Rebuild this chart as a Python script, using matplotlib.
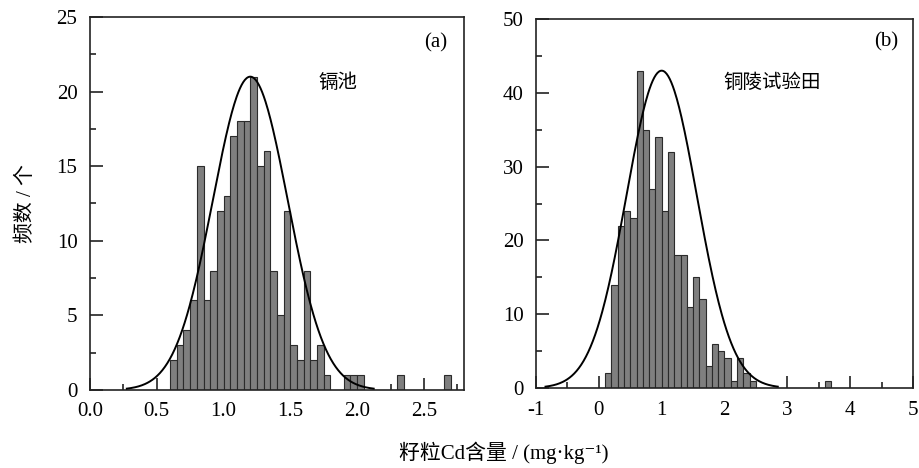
import numpy as np
import matplotlib
matplotlib.use("Agg")
import matplotlib.pyplot as plt
from matplotlib.ticker import MultipleLocator

plt.rcParams['font.family'] = ['Liberation Serif', 'Noto Sans CJK SC', 'DejaVu Serif']
plt.rcParams['axes.unicode_minus'] = False

# panel (a) 镉池: bin left edges (width 0.05) and counts
a_bins = [0.60, 0.65, 0.70, 0.75, 0.80, 0.85, 0.90, 0.95, 1.00, 1.05, 1.10, 1.15,
          1.20, 1.25, 1.30, 1.35, 1.40, 1.45, 1.50, 1.55, 1.60, 1.65, 1.70, 1.75,
          1.90, 1.95, 2.00, 2.30, 2.65]
a_counts = [2, 3, 4, 6, 15, 6, 8, 12, 13, 17, 18, 18,
            21, 15, 16, 8, 5, 12, 3, 2, 8, 2, 3, 1,
            1, 1, 1, 1, 1]
a_width = 0.05
a_mean, a_sd, a_peak = 1.2, 0.28, 21.0

# panel (b) 铜陵试验田: bin left edges (width 0.1) and counts
b_bins = [0.1, 0.2, 0.3, 0.4, 0.5, 0.6, 0.7, 0.8, 0.9, 1.0, 1.1, 1.2,
          1.3, 1.4, 1.5, 1.6, 1.7, 1.8, 1.9, 2.0, 2.1, 2.2, 2.3, 2.4, 3.6]
b_counts = [2, 14, 22, 24, 23, 43, 35, 27, 34, 24, 32, 18,
            18, 11, 15, 12, 3, 6, 5, 4, 1, 4, 2, 1, 1]
b_width = 0.1
b_mean, b_sd, b_peak = 1.0, 0.56, 43.0

bar_face = '#7f7f7f'
bar_edge = '#2b2b2b'
axis_col = '#222222'

fig = plt.figure(figsize=(9.19, 4.68), dpi=100)
ax1 = fig.add_axes([0.0979, 0.1667, 0.4070, 0.7970])
ax2 = fig.add_axes([0.5832, 0.1709, 0.4103, 0.7885])


def draw_panel(ax, bins, counts, width, mean, sd, peak):
    ax.bar(bins, counts, width=width, align='edge', color=bar_face,
           edgecolor=bar_edge, linewidth=0.8, zorder=2)
    xs = np.linspace(mean - 3.3 * sd, mean + 3.3 * sd, 300)
    ax.plot(xs, peak * np.exp(-0.5 * ((xs - mean) / sd) ** 2),
            color='black', lw=1.4, zorder=3)
    for s in ax.spines.values():
        s.set_linewidth(1.2)
        s.set_color(axis_col)
    ax.tick_params(which='both', direction='in', top=False, right=False,
                   width=1.2, color=axis_col, labelsize=15, pad=9)
    ax.tick_params(which='major', length=9)
    ax.tick_params(which='minor', length=4.5)


draw_panel(ax1, a_bins, a_counts, a_width, a_mean, a_sd, a_peak)
ax1.set_xlim(0, 2.8)
ax1.set_ylim(0, 25)
ax1.xaxis.set_major_locator(MultipleLocator(0.5))
ax1.xaxis.set_minor_locator(MultipleLocator(0.25))
ax1.yaxis.set_major_locator(MultipleLocator(5))
ax1.yaxis.set_minor_locator(MultipleLocator(2.5))
ax1.xaxis.set_major_formatter(plt.FormatStrFormatter('%.1f'))
ax1.text(0.925, 0.93, '(a)', transform=ax1.transAxes, ha='center', va='center', fontsize=15)
ax1.text(0.662, 0.823, '镉池', transform=ax1.transAxes, ha='center', va='center', fontsize=14)
ax1.set_ylabel('频数 / 个', fontsize=15, labelpad=15)

draw_panel(ax2, b_bins, b_counts, b_width, b_mean, b_sd, b_peak)
ax2.set_xlim(-1, 5)
ax2.set_ylim(0, 50)
ax2.xaxis.set_major_locator(MultipleLocator(1))
ax2.xaxis.set_minor_locator(MultipleLocator(0.5))
ax2.yaxis.set_major_locator(MultipleLocator(10))
ax2.yaxis.set_minor_locator(MultipleLocator(5))
ax2.text(0.930, 0.938, '(b)', transform=ax2.transAxes, ha='center', va='center', fontsize=15)
ax2.text(0.625, 0.827, '铜陵试验田', transform=ax2.transAxes, ha='center', va='center', fontsize=14)

fig.text(0.548, 0.032, '籽粒Cd含量 / (mg·kg⁻¹)', ha='center', va='center', fontsize=15)

fig.savefig('out.png', dpi=100)
